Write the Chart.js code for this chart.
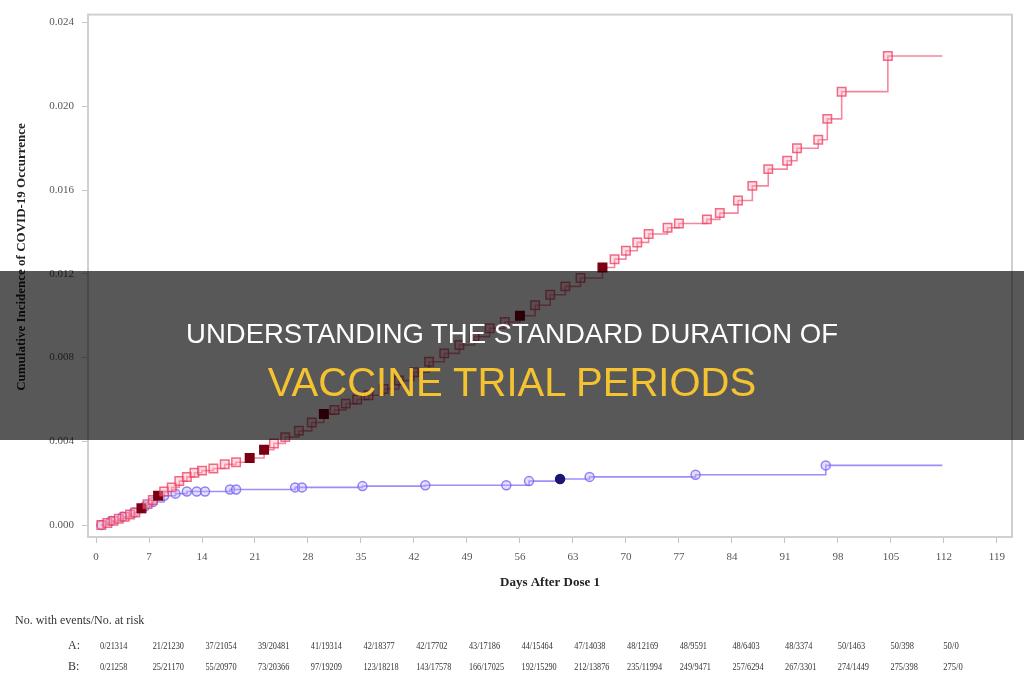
<!DOCTYPE html>
<html>
<head>
<meta charset="utf-8">
<script src="https://cdn.jsdelivr.net/npm/chart.js@4.4.1/dist/chart.umd.min.js"></script>
<style>
  html, body { margin: 0; padding: 0; background: #fff; }
  #wrap { position: relative; width: 1024px; height: 680px; overflow: hidden; }
  #c { position: absolute; left: 0; top: 0; filter: blur(0.6px); }
  #banner { position: absolute; left: 0; top: 271px; width: 1024px; height: 169px; background: rgba(0, 0, 0, 0.655); }
  .line1, .line2 { position: absolute; left: 0; width: 1024px; text-align: center; font-family: "Liberation Sans", Arial, sans-serif; }
  .line1 { top: 49px; font-size: 27.5px; line-height: 27.5px; color: #fff; }
  .line2 { top: 91px; font-size: 40px; line-height: 40px; color: #f5c330; }
</style>
</head>
<body>
<div id="wrap">
  <canvas id="c" width="1024" height="680"></canvas>
  <div id="banner">
    <div class="line1">UNDERSTANDING THE STANDARD DURATION OF</div>
    <div class="line2">VACCINE TRIAL PERIODS</div>
  </div>
</div>
<script>
// axis ticks
const xTicks = [0, 7, 14, 21, 28, 35, 42, 49, 56, 63, 70, 77, 84, 91, 98, 105, 112, 119];
const yTicks = [0, 0.004, 0.008, 0.012, 0.016, 0.020, 0.024];

// placebo (B)
const redDays = [0.7, 1.5, 2.3, 3.0, 3.8, 4.5, 5.2, 6.0, 6.8, 7.5, 8.2, 9.0, 10.0, 11.0, 12.0, 13.0, 14.0, 15.5, 17.0, 18.5,
  20.3, 22.2, 23.5, 25.0, 26.8, 28.5, 30.1, 31.5, 33.0, 34.5, 36.0, 38.0, 40.0, 42.0, 44.0, 46.0, 48.0, 50.0, 52.0, 54.0,
  56.0, 58.0, 60.0, 62.0, 64.0, 66.9, 68.5, 70.0, 71.5, 73.0, 75.5, 77.0, 80.7, 82.4, 84.8, 86.7, 88.8, 91.3, 92.6, 95.4,
  96.6, 98.5, 104.6, 111.8];
const redVals = [0, 0.0001, 0.0002, 0.0003, 0.0004, 0.0005, 0.0006, 0.0008, 0.0010, 0.0012, 0.0014, 0.0016, 0.0018, 0.0021, 0.0023, 0.0025, 0.0026, 0.0027, 0.0029, 0.0030,
  0.0032, 0.0036, 0.0039, 0.0042, 0.0045, 0.0049, 0.0053, 0.0055, 0.0058, 0.0060, 0.0062, 0.0065, 0.0069, 0.0073, 0.0078, 0.0082, 0.0086, 0.0090, 0.0094, 0.0097,
  0.0100, 0.0105, 0.0110, 0.0114, 0.0118, 0.0123, 0.0127, 0.0131, 0.0135, 0.0139, 0.0142, 0.0144, 0.0146, 0.0149, 0.0155, 0.0162, 0.0170, 0.0174, 0.0180, 0.0184,
  0.0194, 0.0207, 0.0224, 0.0224];
const redDarkDays = [6.0, 8.2, 20.3, 22.2, 30.1, 56.0, 66.9];

// vaccine (A)
const blueDays = [0.7, 2.0, 3.5, 5.0, 6.5, 7.5, 9.0, 10.5, 12.0, 13.3, 14.4, 17.7, 18.5, 26.3, 27.2, 35.2, 43.5, 54.2, 57.2, 61.3, 65.2, 79.2, 96.4, 111.8];
const blueVals = [0, 0.0002, 0.0004, 0.0006, 0.0009, 0.0011, 0.0014, 0.0015, 0.0016, 0.0016, 0.0016, 0.0017, 0.0017, 0.0018, 0.0018, 0.00186, 0.0019, 0.0019, 0.0021, 0.0022, 0.0023, 0.0024, 0.00285, 0.00285];
const blueDarkDays = [61.3];

// number at risk table
const riskA = ['0/21314', '21/21230', '37/21054', '39/20481', '41/19314', '42/18377', '42/17702', '43/17186', '44/15464',
  '47/14038', '48/12169', '48/9591', '48/6403', '48/3374', '50/1463', '50/398', '50/0'];
const riskB = ['0/21258', '25/21170', '55/20970', '73/20366', '97/19209', '123/18218', '143/17578', '166/17025', '192/15290',
  '212/13876', '235/11994', '249/9471', '257/6294', '267/3301', '274/1449', '275/398', '275/0'];

const xTitle = 'Days After Dose 1';
const yTitle = 'Cumulative Incidence of COVID-19 Occurrence';

const serif = '"Liberation Serif", "DejaVu Serif", serif';

function pts(days, vals) {
  return days.map((d, i) => ({ x: d, y: vals[i] }));
}

const extras = {
  id: 'extras',
  beforeDatasetsDraw(chart) {
    const { ctx, chartArea: a } = chart;
    ctx.save();
    ctx.strokeStyle = '#d0d0d0';
    ctx.lineWidth = 2;
    ctx.strokeRect(a.left, a.top, a.right - a.left, a.bottom - a.top);
    ctx.restore();
  },
  afterDraw(chart) {
    const { ctx, chartArea: a } = chart;
    ctx.save();
    ctx.fillStyle = '#222';
    ctx.textAlign = 'center';
    ctx.textBaseline = 'middle';
    ctx.font = 'bold 13px ' + serif;
    ctx.fillText(xTitle, (a.left + a.right) / 2, 583);
    ctx.save();
    ctx.translate(22, 257);
    ctx.rotate(-Math.PI / 2);
    ctx.fillText(yTitle, 0, 0);
    ctx.restore();

    // table under the chart
    ctx.textAlign = 'left';
    ctx.fillStyle = '#333';
    ctx.font = '12px ' + serif;
    ctx.fillText('No. with events/No. at risk', 15, 621, 155);
    ctx.fillText('A:', 68, 646);
    ctx.fillText('B:', 68, 667);
    ctx.font = '11px ' + serif;
    for (let i = 0; i < riskA.length; i++) {
      const x = 100 + i * 52.7;
      ctx.fillText(riskA[i], x, 646, riskA[i].length * 3.9);
      ctx.fillText(riskB[i], x, 667, riskB[i].length * 3.9);
    }
    ctx.restore();
  }
};

const ctx = document.getElementById('c').getContext('2d');
const chart = new Chart(ctx, {
  type: 'line',
  data: {
    datasets: [
      {
        label: 'B',
        data: pts(redDays, redVals),
        stepped: true,
        order: 0,
        borderColor: 'rgba(240, 95, 125, 0.75)',
        borderWidth: 1.6,
        pointStyle: 'rect',
        pointRadius: c => c.dataIndex === redDays.length - 1 ? 0 : 6,
        pointBorderWidth: 1.5,
        pointBorderColor: c => redDarkDays.includes(redDays[c.dataIndex]) ? '#7a0012' : 'rgba(235, 60, 95, 0.75)',
        pointBackgroundColor: c => redDarkDays.includes(redDays[c.dataIndex]) ? '#7a0012' : 'rgba(255, 175, 190, 0.4)'
      },
      {
        label: 'A',
        data: pts(blueDays, blueVals),
        stepped: true,
        order: 1,
        borderColor: 'rgba(125, 105, 245, 0.75)',
        borderWidth: 1.6,
        pointStyle: 'circle',
        pointRadius: c => c.dataIndex === blueDays.length - 1 ? 0 : 4.5,
        pointBorderWidth: 1.5,
        pointBorderColor: c => blueDarkDays.includes(blueDays[c.dataIndex]) ? '#1b1670' : 'rgba(120, 100, 240, 0.8)',
        pointBackgroundColor: c => blueDarkDays.includes(blueDays[c.dataIndex]) ? '#1b1670' : 'rgba(185, 175, 255, 0.4)'
      }
    ]
  },
  options: {
    responsive: false,
    animation: false,
    layout: { padding: { top: 12, right: 12, left: 0, bottom: 0 } },
    plugins: { legend: { display: false }, tooltip: { enabled: false } },
    scales: {
      x: {
        type: 'linear',
        min: -1.06,
        max: 121,
        afterBuildTicks: s => { s.ticks = xTicks.map(v => ({ value: v })); },
        afterFit: s => { s.height = 143; },
        grid: { drawOnChartArea: false, tickLength: 6, color: '#c4c4c4' },
        border: { display: false },
        ticks: { autoSkip: false, maxRotation: 0, padding: 8, color: '#555', font: { family: serif, size: 11 } }
      },
      y: {
        min: -0.00057,
        max: 0.02438,
        afterBuildTicks: s => { s.ticks = yTicks.map(v => ({ value: v })); },
        afterFit: s => { s.width = 88; },
        grid: { drawOnChartArea: false, tickLength: 6, color: '#c4c4c4' },
        border: { display: false },
        ticks: { padding: 8, color: '#555', font: { family: serif, size: 11 }, callback: v => v.toFixed(3) }
      }
    }
  },
  plugins: [extras]
});
</script>
</body>
</html>
